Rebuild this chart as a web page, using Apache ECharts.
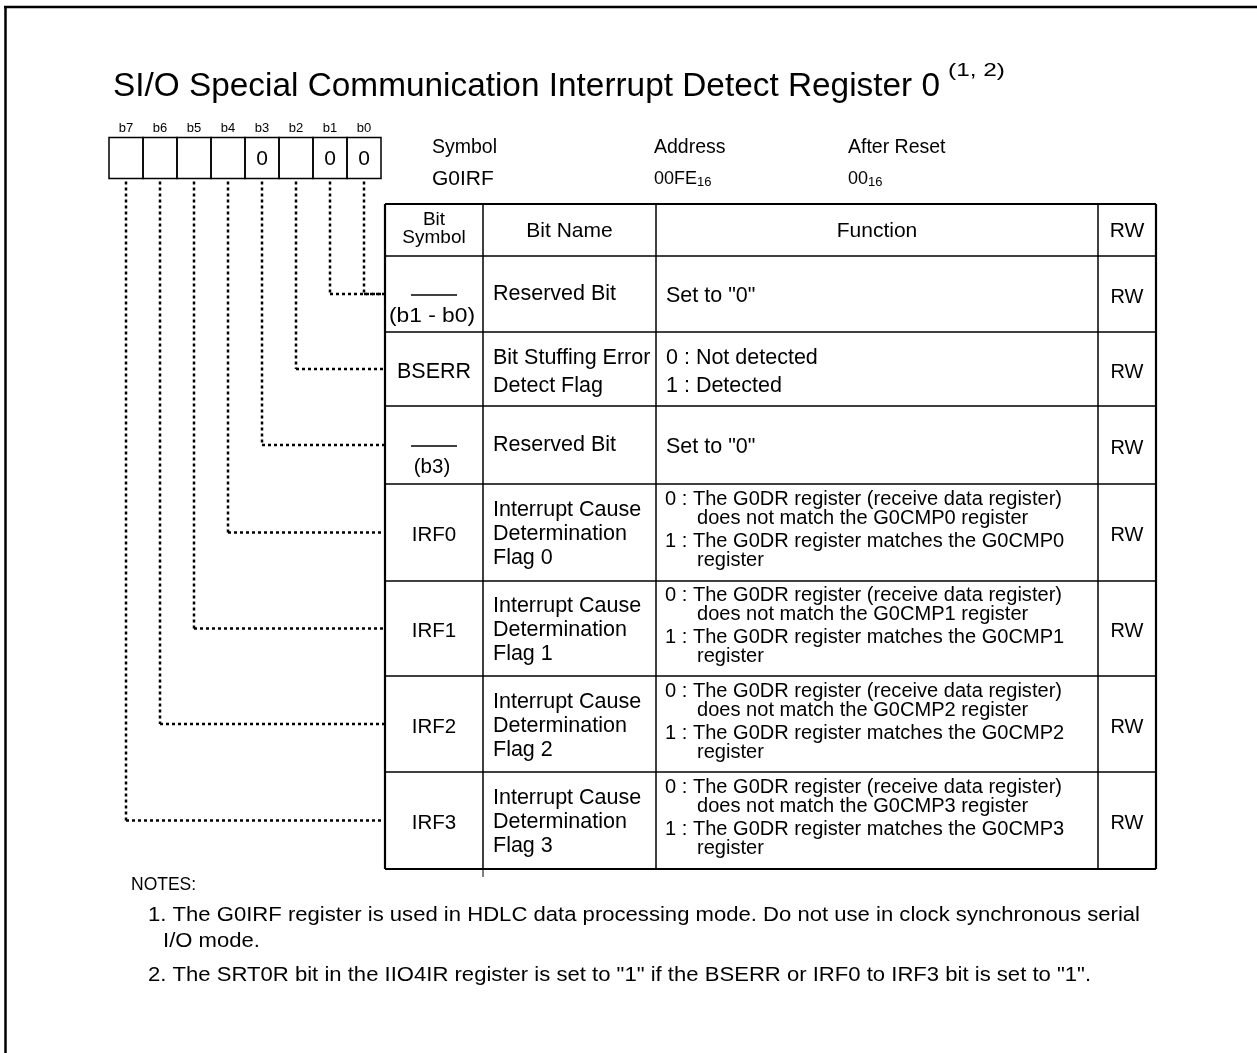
<!DOCTYPE html>
<html>
<head>
<meta charset="utf-8">
<script src="https://cdn.jsdelivr.net/npm/echarts@6/dist/echarts.min.js"></script>
<style>
html,body{margin:0;padding:0;background:#fff;}
#chart{width:1257px;height:1053px;}
</style>
</head>
<body>
<div id="chart"></div>
<script>
// ---------------- DATA ----------------
const titleText = 'SI/O Special Communication Interrupt Detect Register 0';
const titleNote = '(1, 2)';
const bitLabels = ['b7', 'b6', 'b5', 'b4', 'b3', 'b2', 'b1', 'b0'];
const bitValues = ['', '', '', '', '0', '', '0', '0'];
const bitToRow = [6, 5, 4, 3, 2, 1, 0, 0];
const infoLabels = ['Symbol', 'Address', 'After Reset'];
const infoValues = ['G0IRF', '00FE', '00'];
const infoSubs = ['', '16', '16'];
const headerCells = [['Bit', 'Symbol'], ['Bit Name'], ['Function'], ['RW']];
const rowSymbols = ['(b1 - b0)', 'BSERR', '(b3)', 'IRF0', 'IRF1', 'IRF2', 'IRF3'];
const rowReserved = [true, false, true, false, false, false, false];
const rowNames = [
  ['Reserved Bit'],
  ['Bit Stuffing Error', 'Detect Flag'],
  ['Reserved Bit'],
  ['Interrupt Cause', 'Determination', 'Flag 0'],
  ['Interrupt Cause', 'Determination', 'Flag 1'],
  ['Interrupt Cause', 'Determination', 'Flag 2'],
  ['Interrupt Cause', 'Determination', 'Flag 3']
];
const rowFunctions = [
  ['Set to "0"'],
  ['0 : Not detected', '1 : Detected'],
  ['Set to "0"'],
  ['0 : The G0DR register (receive data register)', 'does not match the G0CMP0 register', '1 : The G0DR register matches the G0CMP0', 'register'],
  ['0 : The G0DR register (receive data register)', 'does not match the G0CMP1 register', '1 : The G0DR register matches the G0CMP1', 'register'],
  ['0 : The G0DR register (receive data register)', 'does not match the G0CMP2 register', '1 : The G0DR register matches the G0CMP2', 'register'],
  ['0 : The G0DR register (receive data register)', 'does not match the G0CMP3 register', '1 : The G0DR register matches the G0CMP3', 'register']
];
const rowRW = ['RW', 'RW', 'RW', 'RW', 'RW', 'RW', 'RW'];
const notesTitle = 'NOTES:';
const notes = [
  ['1.', 'The G0IRF register is used in HDLC data processing mode. Do not use in clock synchronous serial', 'I/O mode.'],
  ['2.', 'The SRT0R bit in the IIO4IR register is set to "1" if the BSERR or IRF0 to IRF3 bit is set to "1".']
];

// ---------------- LAYOUT ----------------
const FONT = '"Liberation Sans", Arial, Helvetica, sans-serif';
const cv = document.createElement('canvas').getContext('2d');
function measure(t, s) { cv.font = s + 'px ' + FONT; return cv.measureText(t).width; }

const els = [];
function txt(t, x, y, size, align, sx) {
  const o = {
    type: 'text', x: x, y: y, silent: true,
    style: {
      text: t, font: size + 'px ' + FONT, fill: '#000',
      align: align || 'left', verticalAlign: 'middle',
      textAlign: align || 'left', textVerticalAlign: 'middle'
    }
  };
  if (sx) { o.scaleX = sx; }
  els.push(o);
}
function line(x1, y1, x2, y2, w, dash, color) {
  els.push({
    type: 'line', silent: true,
    shape: { x1: x1, y1: y1, x2: x2, y2: y2 },
    style: { stroke: color || '#000', lineWidth: w, lineDash: dash || null }
  });
}

// page border (top & left)
line(4, 7, 1257, 7, 2.5);
line(5.5, 6, 5.5, 1053, 2.5);

// title
const tSize = 33;
txt(titleText, 113, 87, tSize, 'left', 827 / measure(titleText, tSize));
txt(titleNote, 948, 71, 19, 'left', 57 / measure(titleNote, 19));

// bit boxes
const boxX0 = 109, boxW = 34, boxY = 137.5, boxH = 41;
bitLabels.forEach(function (b, i) {
  const cx = boxX0 + boxW * i + boxW / 2;
  txt(b, cx, 128, 13, 'center');
  els.push({ type: 'rect', silent: true, shape: { x: boxX0 + boxW * i, y: boxY, width: boxW, height: boxH },
    style: { fill: 'none', stroke: '#000', lineWidth: 1.5 } });
  if (bitValues[i]) txt(bitValues[i], cx, boxY + boxH / 2 + 1, 21, 'center');
});

// info block
const infoX = [432, 654, 848];
infoLabels.forEach(function (l, i) {
  txt(l, infoX[i], 148, 19.5, 'left');
  const vs = i === 0 ? 21 : 18;
  txt(infoValues[i], infoX[i], 179, vs, 'left');
  if (infoSubs[i]) txt(infoSubs[i], infoX[i] + measure(infoValues[i], vs), 182, 13, 'left');
});

// table geometry
const colX = [385, 483, 656, 1098, 1156];
const rowY = [204, 256, 332, 406, 484, 581, 676, 772, 869];
// header
const hcY = (rowY[0] + rowY[1]) / 2;
txt(headerCells[0][0], (colX[0] + colX[1]) / 2, 220, 19, 'center');
txt(headerCells[0][1], (colX[0] + colX[1]) / 2, 238, 19, 'center');
for (let c = 1; c < 4; c++) txt(headerCells[c][0], (colX[c] + colX[c + 1]) / 2, hcY + 1, 21, 'center');

const fnSize = 20;
rowSymbols.forEach(function (s, r) {
  const top = rowY[r + 1], bot = rowY[r + 2], cy = (top + bot) / 2;
  const c0 = (colX[0] + colX[1]) / 2;
  if (rowReserved[r]) {
    line(c0 - 23, cy + 1, c0 + 23, cy + 1, 1.5);
    const ss = 20.5;
    const w = r === 0 ? 86 : measure(s, ss);
    txt(s, c0 - 2, cy + 22, ss, 'center', w / measure(s, ss));
  } else {
    txt(s, c0, cy + 3, s === 'BSERR' ? 21.5 : 20.5, 'center');
  }
  const names = rowNames[r];
  if (names.length === 1) txt(names[0], 493, cy, 21.5, 'left');
  else if (names.length === 2) { txt(names[0], 493, cy - 11, 21.5, 'left'); txt(names[1], 493, cy + 17, 21.5, 'left'); }
  else { names.forEach(function (n, k) { txt(n, 493, cy - 22 + 24 * k, 21.5, 'left'); }); }
  const f = rowFunctions[r];
  if (f.length === 1) txt(f[0], 666, cy + 2, 21.5, 'left');
  else if (f.length === 2) { txt(f[0], 666, cy - 11, 21.5, 'left'); txt(f[1], 666, cy + 17, 21.5, 'left'); }
  else {
    const offs = [-33, -14, 9, 28];
    const sx = 397 / measure(f[0], fnSize);
    f.forEach(function (t, k) {
      txt(t, k % 2 === 0 ? 665 : 697, cy + offs[k], fnSize, 'left', sx);
    });
  }
  txt(rowRW[r], (colX[3] + colX[4]) / 2, cy + 3, 20, 'center');
});

// table lines
rowY.forEach(function (y, i) {
  const outer = (i === 0 || i === rowY.length - 1);
  line(colX[0], y, colX[4], y, outer ? 2.2 : 1.5);
});
colX.forEach(function (x, i) {
  const outer = (i === 0 || i === colX.length - 1);
  line(x, rowY[0], x, rowY[rowY.length - 1], outer ? 2.2 : 1.5);
});
line(colX[1], rowY[rowY.length - 1], colX[1], rowY[rowY.length - 1] + 8, 1);

// dotted leader lines
bitLabels.forEach(function (b, i) {
  const cx = boxX0 + boxW * i + boxW / 2;
  const r = bitToRow[i];
  const cy = (rowY[r + 1] + rowY[r + 2]) / 2;
  line(cx, boxY + boxH + 3, cx, cy, 2.5, [3, 3]);
  line(cx, cy, colX[0], cy, 2.5, [3, 3]);
});

// notes
txt(notesTitle, 131, 885, 17.5, 'left');
const nSize = 20.5;
const n1 = notes[0][0] + ' ' + notes[0][1];
const nsx = 992 / measure(n1, nSize);
txt(n1, 148, 915, nSize, 'left', nsx);
txt(notes[0][2], 163, 941, nSize, 'left', nsx);
txt(notes[1][0] + ' ' + notes[1][1], 148, 975, nSize, 'left', nsx);

const chart = echarts.init(document.getElementById('chart'), null, { renderer: 'canvas' });
chart.setOption({
  backgroundColor: '#fff',
  animation: false,
  graphic: { elements: els }
});
</script>
</body>
</html>
